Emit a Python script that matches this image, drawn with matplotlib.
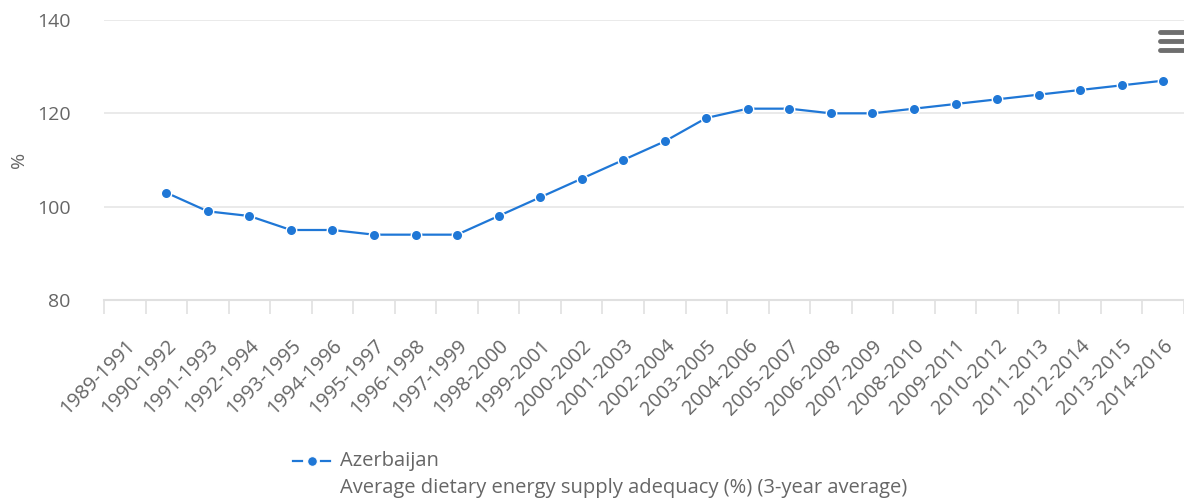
import numpy as np
import matplotlib.pyplot as plt
from matplotlib.lines import Line2D

plt.rcParams['font.family'] = ['Open Sans', 'DejaVu Sans']

# periodos de 3 anos
periodos = ['1989-1991', '1990-1992', '1991-1993', '1992-1994', '1993-1995',
            '1994-1996', '1995-1997', '1996-1998', '1997-1999', '1998-2000',
            '1999-2001', '2000-2002', '2001-2003', '2002-2004', '2003-2005',
            '2004-2006', '2005-2007', '2006-2008', '2007-2009', '2008-2010',
            '2009-2011', '2010-2012', '2011-2013', '2012-2014', '2013-2015',
            '2014-2016']
# adequacao energetica (%), sem dado no primeiro periodo
adequacao = [np.nan, 103, 99, 98, 95, 95, 94, 94, 94, 98, 102, 106, 110, 114,
             119, 121, 121, 120, 120, 121, 122, 123, 124, 125, 126, 127]
y_ticks = [80, 100, 120, 140]

azul = '#1f77d6'
cinza = '#666666'

fig = plt.figure(figsize=(11.84, 4.99), dpi=100)
W, H = 1184, 499
ax = fig.add_axes([104 / W, 1 - 300 / H, (W - 104) / W, 280 / H])

x = np.arange(len(periodos))
ax.plot(x, adequacao, color=azul, lw=1.6, marker='o', ms=7.5,
        mfc=azul, mec='white', mew=1, zorder=3)

ax.set_xlim(-0.5, 25.33)
ax.set_ylim(80, 140)
ax.set_yticks(y_ticks)
ax.grid(axis='y', color='#e6e6e6', lw=1.2)
ax.set_axisbelow(True)

for s in ['top', 'right', 'left']:
    ax.spines[s].set_visible(False)
ax.spines['bottom'].set_color('#e0e0e0')
ax.spines['bottom'].set_linewidth(1.5)

ax.set_xticks(x)
ax.set_xticklabels(periodos, rotation=45, ha='right', va='top',
                   rotation_mode='anchor', fontsize=14.3, color=cinza)
ax.set_xticks(np.arange(len(periodos) + 1) - 0.5, minor=True)
ax.tick_params(axis='x', which='major', length=0, pad=26)
ax.tick_params(axis='x', which='minor', length=10, color='#e0e0e0', width=1.2)
ax.tick_params(axis='y', length=0, pad=24, labelsize=14, labelcolor=cinza)

fig.text(19 / W, 1 - 160 / H, '%', rotation=90, ha='center', va='center',
         fontsize=14, color=cinza)

# legenda: -o-
y_leg = 1 - 461 / H
for x0, x1 in [(293, 302), (321, 330)]:
    fig.add_artist(Line2D([x0 / W, x1 / W], [y_leg] * 2, color=azul, lw=1.6))
fig.add_artist(Line2D([311.5 / W], [y_leg], color=azul, marker='o', ms=7,
                      mec='white', mew=0.8))
fig.text(340 / W, y_leg, 'Azerbaijan', ha='left', va='center',
         fontsize=14.5, color=cinza)
fig.text(340 / W, 1 - 488 / H,
         'Average dietary energy supply adequacy (%) (3-year average)',
         ha='left', va='center', fontsize=14.5, color=cinza)

# botao de menu
for yy in [32, 41, 50]:
    fig.add_artist(Line2D([1160 / W, 1184 / W], [1 - yy / H] * 2,
                          color='#6e6e6e', lw=3.5, solid_capstyle='round'))

fig.savefig('out.png', dpi=100)
